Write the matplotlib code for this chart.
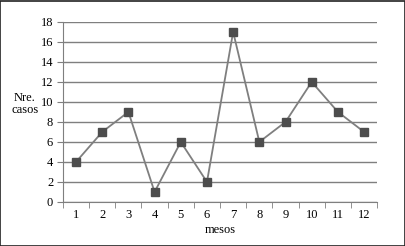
import numpy as np
import matplotlib.pyplot as plt

# Dades
mesos = np.arange(1, 13)
casos = [4, 7, 9, 1, 6, 2, 17, 6, 8, 12, 9, 7]

plt.rcParams['font.family'] = ['Liberation Serif', 'DejaVu Serif']

fig = plt.figure(figsize=(4.06, 2.46), dpi=100)
ax = fig.add_axes([0.155, 0.179, 0.774, 0.732])

ax.plot(mesos, casos, color='#7f7f7f', lw=1.3, marker='s', markersize=5.5,
        markerfacecolor='#4d4d4d', markeredgecolor='#4d4d4d', zorder=3)

ax.set_xlim(0.5, 12.5)
ax.set_ylim(0, 18)
ax.set_yticks(range(0, 19, 2))
ax.set_xticks(mesos)
ax.set_xticks(np.arange(0.5, 13, 1), minor=True)
ax.tick_params(axis='x', which='major', length=0, pad=5, labelsize=9)
ax.tick_params(axis='x', which='minor', length=4, color='#7f7f7f', direction='out')
ax.tick_params(axis='y', length=4, color='#7f7f7f', labelsize=9, pad=3)
ax.yaxis.grid(True, color='#7f7f7f', lw=1)
ax.set_axisbelow(True)
for s in ['top', 'right']:
    ax.spines[s].set_visible(False)
for s in ['left', 'bottom']:
    ax.spines[s].set_color('#7f7f7f')

fig.text(25/406, 1 - 104/246, 'Nre.\ncasos', ha='center', va='center', fontsize=9, linespacing=1.0)
ax.set_xlabel('mesos', fontsize=9, labelpad=2)

# vora de la figura
fig.patches.append(plt.Rectangle((0.001, 0.002), 0.997, 0.995, transform=fig.transFigure,
                                 fill=False, edgecolor='#222222', lw=1.2))

fig.savefig('out.png', dpi=100)
